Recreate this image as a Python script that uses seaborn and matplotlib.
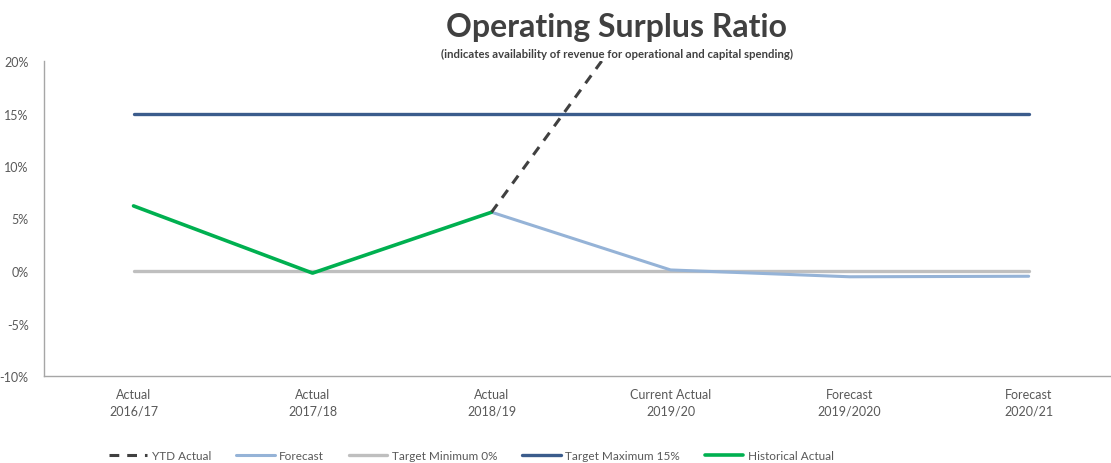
import numpy as np
import pandas as pd
import matplotlib
matplotlib.use("Agg")
import matplotlib.pyplot as plt
import seaborn as sns
from matplotlib.ticker import FixedLocator, FuncFormatter

# ---- data ----
categories = ["Actual\n2016/17", "Actual\n2017/18", "Actual\n2018/19",
              "Current Actual\n2019/20", "Forecast\n2019/2020", "Forecast\n2020/21"]
ytd_actual = [np.nan, np.nan, 5.6, 29.0, np.nan, np.nan]
forecast = [np.nan, np.nan, 5.6, 0.1, -0.55, -0.5]
target_min = [0, 0, 0, 0, 0, 0]
target_max = [15, 15, 15, 15, 15, 15]
historical = [6.2, -0.2, 5.6, np.nan, np.nan, np.nan]
yticks = [-10, -5, 0, 5, 10, 15, 20]

sns.set_style("white")
plt.rcParams['font.family'] = ['Lato', 'DejaVu Sans']

fig = plt.figure(figsize=(11.11, 4.64), dpi=100)
ax = fig.add_axes([44/1111, 1-377/464, 1-44/1111, (377-62)/464])

x = np.arange(len(categories))
df = pd.DataFrame({"x": x, "ytd": ytd_actual, "fc": forecast,
                   "tmin": target_min, "tmax": target_max, "hist": historical})

txt = "#595959"
series = [
    ("tmin", "Target Minimum 0%", "#BFBFBF", 2.4, "-", 1),
    ("tmax", "Target Maximum 15%", "#3B5C8C", 2.4, "-", 2),
    ("fc", "Forecast", "#95B3D7", 2.2, "-", 3),
    ("hist", "Historical Actual", "#00B050", 2.6, "-", 4),
    ("ytd", "YTD Actual", "#404040", 2.2, (0, (3.2, 2.6)), 5),
]
for col, lab, c, lw, ls, z in series:
    sub = df[["x", col]].dropna()
    sns.lineplot(data=sub, x="x", y=col, ax=ax, color=c, linewidth=lw,
                 linestyle=ls, label=lab, zorder=z, errorbar=None, sort=False)

ax.set_xlim(-0.5, 5.46)
ax.set_ylim(-10, 20)
ax.set_xlabel("")
ax.set_ylabel("")

ax.xaxis.set_major_locator(FixedLocator(x))
ax.set_xticklabels(categories)
ax.xaxis.set_minor_locator(FixedLocator(np.arange(-0.5, 5.5, 1.0)))
ax.yaxis.set_major_locator(FixedLocator(yticks))
ax.yaxis.set_major_formatter(FuncFormatter(lambda v, p: f"{int(v)}%"))

for s in ["top", "right"]:
    ax.spines[s].set_visible(False)
for s in ["left", "bottom"]:
    ax.spines[s].set_color("#A6A6A6")
    ax.spines[s].set_linewidth(1.0)

ax.tick_params(axis="both", which="both", direction="out", length=4,
               width=0.9, color="#A6A6A6", labelcolor=txt, labelsize=9)
ax.tick_params(axis="x", which="major", pad=5)
ax.tick_params(axis="y", pad=7)
for lbl in ax.get_xticklabels():
    lbl.set_linespacing(1.45)

handles, labels = ax.get_legend_handles_labels()
ax.get_legend().remove()
order = ["YTD Actual", "Forecast", "Target Minimum 0%", "Target Maximum 15%", "Historical Actual"]
hmap = dict(zip(labels, handles))
leg = fig.legend([hmap[o] for o in order], order, loc="center", ncol=5,
                 bbox_to_anchor=(0.424, 1-457/464), frameon=False,
                 fontsize=8.5, handlelength=3.3, handletextpad=0.35,
                 columnspacing=2.1, labelcolor=txt)

fig.text(0.555, 1-28/464, "Operating Surplus Ratio", ha="center", va="center",
         fontsize=23, fontweight="bold", color="#404040")
fig.text(0.555, 1-54/464, "(indicates availability of revenue for operational and capital spending)",
         ha="center", va="center", fontsize=8.2, fontweight="bold", color="#404040")

fig.savefig("out.png", dpi=100)
